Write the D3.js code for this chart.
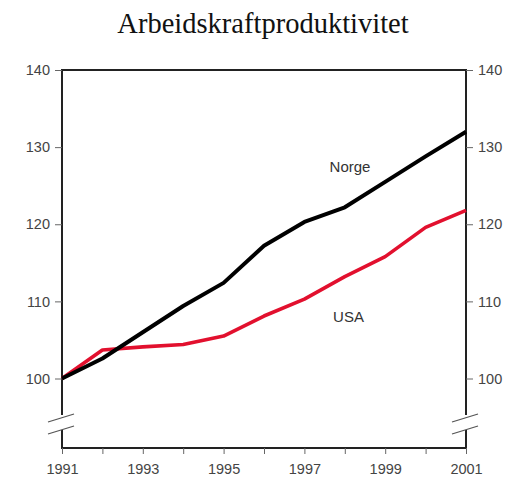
<!DOCTYPE html>
<html>
<head>
<meta charset="utf-8">
<script src="https://cdn.jsdelivr.net/npm/d3@7"></script>
<style>
  body { margin: 0; background: #fff; }
  svg text { font-family: "Liberation Sans", Arial, sans-serif; }
</style>
</head>
<body>
<svg width="511" height="481"></svg>
<script>
// data (index 1991 = 100)
var years = [1991, 1992, 1993, 1994, 1995, 1996, 1997, 1998, 1999, 2000, 2001];
var norge = [100, 102.6, 106.0, 109.4, 112.4, 117.2, 120.3, 122.2, 125.5, 128.8, 132.0];
var usa   = [100, 103.7, 104.1, 104.4, 105.5, 108.1, 110.3, 113.2, 115.8, 119.6, 121.8];
var yTicks = [100, 110, 120, 130, 140];
var xLabels = [1991, 1993, 1995, 1997, 1999, 2001];

var svg = d3.select("svg");

// plot frame (note: "top" is taken by window.top, so plot* names)
var plotLeft = 62, plotRight = 466, plotTop = 70, plotBottom = 448;

var x = d3.scaleLinear().domain([1991, 2001]).range([plotLeft, plotRight]);
// axis is broken below 100, scale only used from 100 up
var y = d3.scaleLinear().domain([100, 140]).range([378.5, plotTop]);

var axisCol = "#222";

/*==========================
  title
==========================*/
svg.append("text")
  .attr("x", 263).attr("y", 33)
  .attr("text-anchor", "middle")
  .style("font-family", "'Liberation Serif', 'Times New Roman', serif")
  .style("font-size", "28.5px")
  .attr("fill", "#111")
  .text("Arbeidskraftproduktivitet");

/*==========================
  frame with break
==========================*/
var breakTop = 415, breakBot = 430;

// top
svg.append("line").attr("x1", plotLeft).attr("x2", plotRight).attr("y1", plotTop).attr("y2", plotTop)
  .attr("stroke", axisCol).attr("stroke-width", 2);
// bottom
svg.append("line").attr("x1", plotLeft - 1).attr("x2", plotRight + 1).attr("y1", plotBottom).attr("y2", plotBottom)
  .attr("stroke", axisCol).attr("stroke-width", 2.2);

[plotLeft, plotRight].forEach(function(xx){
  svg.append("line").attr("x1", xx).attr("x2", xx).attr("y1", plotTop - 1).attr("y2", breakTop)
    .attr("stroke", axisCol).attr("stroke-width", 2);
  svg.append("line").attr("x1", xx).attr("x2", xx).attr("y1", breakBot).attr("y2", plotBottom)
    .attr("stroke", axisCol).attr("stroke-width", 2);
  // the two slanted break marks
  svg.append("line").attr("x1", xx - 14).attr("x2", xx + 12).attr("y1", breakTop + 7).attr("y2", breakTop - 1)
    .attr("stroke", "#555").attr("stroke-width", 1.3);
  svg.append("line").attr("x1", xx - 14).attr("x2", xx + 12).attr("y1", breakBot + 4).attr("y2", breakBot - 4)
    .attr("stroke", "#555").attr("stroke-width", 1.3);
});

/*==========================
  axes
==========================*/
var yLeft = svg.append("g").attr("transform", "translate(" + plotLeft + ",0)")
  .call(d3.axisLeft(y).tickValues(yTicks).tickSize(7).tickPadding(5));
var yRight = svg.append("g").attr("transform", "translate(" + plotRight + ",0)")
  .call(d3.axisRight(y).tickValues(yTicks).tickSize(7).tickPadding(5));
var xAxis = svg.append("g").attr("transform", "translate(0," + plotBottom + ")")
  .call(d3.axisBottom(x).tickValues(years).tickSize(6).tickPadding(10)
    .tickFormat(function(d){ return xLabels.indexOf(d) >= 0 ? d : ""; }));

[yLeft, yRight, xAxis].forEach(function(g){
  g.select(".domain").remove();
  g.selectAll(".tick line").attr("stroke", "#666").attr("stroke-width", 1);
  g.selectAll(".tick text").attr("fill", "#444").style("font-size", "14.5px")
    .style("font-family", "'Liberation Sans', Arial, sans-serif");
});

/*==========================
  lines
==========================*/
var line = d3.line()
  .x(function(d, i){ return x(years[i]); })
  .y(function(d){ return y(d); });

svg.append("path").datum(usa)
  .attr("d", line)
  .attr("fill", "none")
  .attr("stroke", "#e2102e")
  .attr("stroke-width", 3.6)
  .attr("stroke-linejoin", "round");

svg.append("path").datum(norge)
  .attr("d", line)
  .attr("fill", "none")
  .attr("stroke", "#000")
  .attr("stroke-width", 4)
  .attr("stroke-linejoin", "round");

/*==========================
  labels
==========================*/
svg.append("text").attr("x", 350).attr("y", 172)
  .attr("text-anchor", "middle").style("font-size", "15px").attr("fill", "#333")
  .text("Norge");
svg.append("text").attr("x", 348.5).attr("y", 322)
  .attr("text-anchor", "middle").style("font-size", "15px").attr("fill", "#333")
  .text("USA");
</script>
</body>
</html>
